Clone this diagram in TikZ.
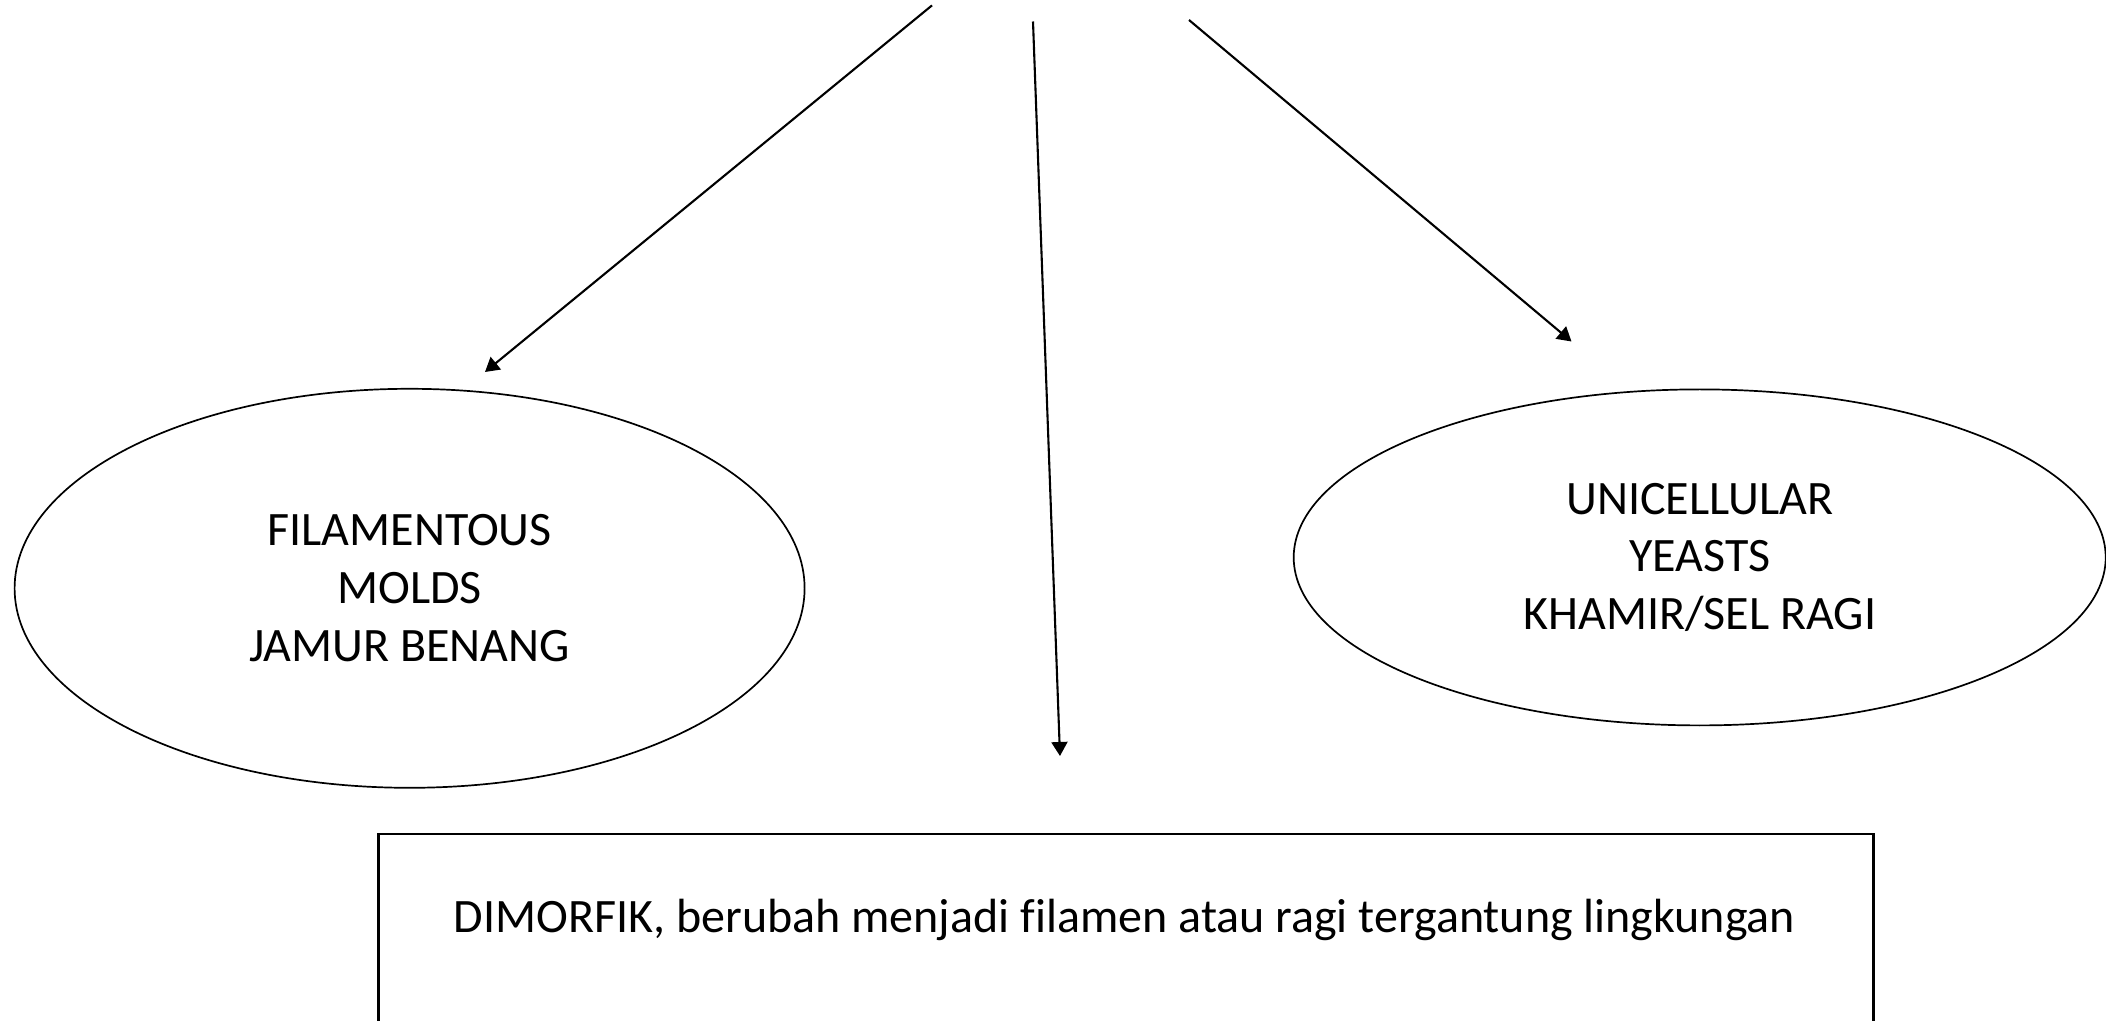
\documentclass[tikz,border=0pt]{standalone}
\usepackage{fontspec}
\setmainfont{Carlito}[Ligatures=NoCommon]
\usetikzlibrary{shapes.geometric,arrows.meta}
\begin{document}
\begin{tikzpicture}[x=0.5pt,y=-0.5pt,
  txt/.style={font=\fontsize{24}{28.85}\selectfont, align=center, text=black},
  oval/.style={ellipse, draw, line width=0.85pt, inner sep=0pt, txt},
  conn/.style={-{Triangle[length=7pt,width=8pt]}, line width=1.05pt},
  boxst/.style={rectangle, draw, line width=1.05pt, inner sep=0pt}]
\useasboundingbox (0,0) rectangle (2106,1021);
\node[oval, minimum width=395pt, minimum height=199.5pt] (molds) at (409.6,588.3) {FILAMENTOUS\\MOLDS\\JAMUR BENANG};
\node[oval, minimum width=406pt, minimum height=168pt] (yeasts) at (1699.7,557.4) {UNICELLULAR\\YEASTS\\KHAMIR/SEL RAGI};
\node[boxst, anchor=north west, minimum width=747.5pt, minimum height=200pt] (box) at (377.4,832.7) {};
\node[txt] (dim) at (1124.5,920) {DIMORFIK, berubah menjadi filamen atau ragi tergantung lingkungan};
\coordinate (a1s) at (932,5.4);
\coordinate (a1e) at (485,372);
\coordinate (a2s) at (1033,21.5);
\coordinate (a2e) at (1060,756);
\coordinate (a3s) at (1189,20);
\coordinate (a3e) at (1571.5,341.5);
\draw[conn] (a1s) -- (a1e);
\draw[conn] (a2s) -- (a2e);
\draw[conn] (a3s) -- (a3e);
\end{tikzpicture}
\end{document}
